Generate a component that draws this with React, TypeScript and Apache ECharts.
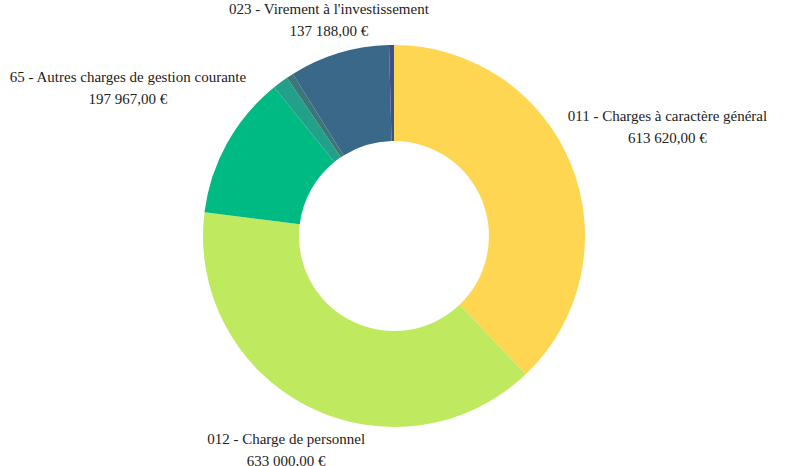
import React, { useEffect, useRef } from 'react';
import * as echarts from 'echarts';

const categories = [
  '011 - Charges à caractère général',
  '012 - Charge de personnel',
  '65 - Autres charges de gestion courante',
  '66 - Charges financières',
  '67 - Charges exceptionnelles',
  "023 - Virement à l'investissement",
  '014 - Atténuations de produits',
];
const values = [613620, 633000, 197967, 21500, 9500, 137188, 6700];
const showLabel = [true, true, true, false, false, true, false];
const colors = ['#FED651', '#BFEA5F', '#00BA84', '#23A08A', '#3B7778', '#3A6889', '#3F4F8C'];

const CX = 394;
const CY = 236;
const R_IN = 95;
const R_OUT = 191;
const PAD = 3;
const FONT = 'Liberation Serif';
const FONT_SIZE = 15;
const LINE_H = 22;

function fmt(v: number): string {
  const s = Math.round(v).toString();
  const parts: string[] = [];
  for (let i = s.length; i > 0; i -= 3) parts.unshift(s.slice(Math.max(0, i - 3), i));
  return parts.join(' ') + ',00 €';
}

function buildLabels(): any[] {
  const total = values.reduce((a, b) => a + b, 0);
  const ctx = document.createElement('canvas').getContext('2d')!;
  ctx.font = `${FONT_SIZE}px "${FONT}"`;
  const out: any[] = [];
  let before = 0;
  values.forEach((v, i) => {
    const theta = ((before + v / 2) / total) * Math.PI * 2;
    before += v;
    if (!showLabel[i]) return;
    const lines = [categories[i], fmt(v)];
    const w = Math.max(...lines.map((l) => ctx.measureText(l).width));
    const hw = w / 2;
    const hh = (lines.length * LINE_H) / 2;
    const ux = Math.sin(theta);
    const uy = -Math.cos(theta);
    let d = R_OUT;
    for (; d < R_OUT + 500; d += 0.5) {
      const dx = Math.max(0, Math.abs(ux * d) - hw);
      const dy = Math.max(0, Math.abs(uy * d) - hh);
      if (Math.hypot(dx, dy) >= R_OUT + PAD) break;
    }
    const cx = CX + ux * d;
    const cy = CY + uy * d;
    lines.forEach((line, k) => {
      out.push({
        type: 'text',
        x: cx,
        y: cy - hh + LINE_H * (k + 0.5),
        silent: true,
        style: {
          text: line,
          fontFamily: FONT,
          fontSize: FONT_SIZE,
          align: 'center',
          verticalAlign: 'middle',
          fill: '#222',
        },
      });
    });
  });
  return out;
}

export default function App() {
  const ref = useRef<HTMLDivElement>(null);
  useEffect(() => {
    document.body.style.margin = '0';
    const chart = echarts.init(ref.current!, null, { renderer: 'svg' });
    chart.setOption({
      animation: false,
      backgroundColor: '#ffffff',
      graphic: buildLabels(),
      series: [
        {
          type: 'pie',
          center: [CX, CY],
          radius: [R_IN, R_OUT],
          startAngle: 90,
          clockwise: true,
          label: { show: false },
          labelLine: { show: false },
          emphasis: { disabled: true },
          data: categories.map((name, i) => ({
            name,
            value: values[i],
            itemStyle: { color: colors[i] },
          })),
        },
      ],
    });
    return () => chart.dispose();
  }, []);
  return <div ref={ref} style={{ width: 787, height: 466 }} />;
}
